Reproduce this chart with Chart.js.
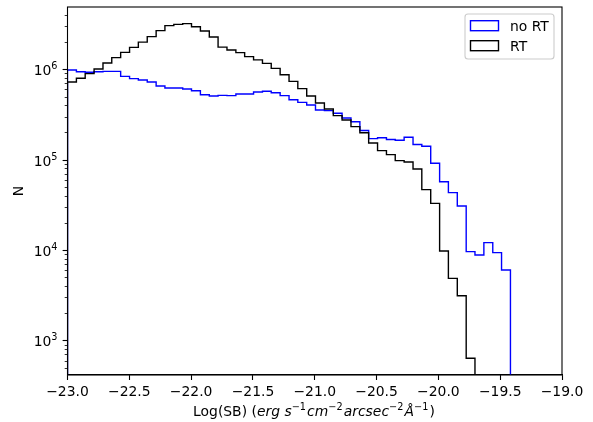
<!DOCTYPE html>
<html>
<head>
<meta charset="utf-8">
<style>
    html, body { margin: 0; padding: 0; background: #ffffff; }
    canvas { display: block; }
</style>
<script src="https://cdn.jsdelivr.net/npm/chart.js@4"></script>
</head>
<body>
<canvas id="sbChart" width="593" height="422"></canvas>
<script>
let binEdges = [
    -23.000, -22.928, -22.857, -22.785, -22.713, -22.642, -22.570, -22.498, -22.427, -22.355,
    -22.283, -22.212, -22.140, -22.068, -21.997, -21.925, -21.853, -21.782, -21.710, -21.638,
    -21.567, -21.495, -21.423, -21.352, -21.280, -21.208, -21.137, -21.065, -20.994, -20.922,
    -20.850, -20.779, -20.707, -20.635, -20.564, -20.492, -20.420, -20.349, -20.277, -20.205,
    -20.134, -20.062, -19.990, -19.919, -19.847, -19.775, -19.704, -19.632, -19.560, -19.489,
    -19.417
];

let noRtCounts = [
    9.82e5, 9.41e5, 9.26e5, 9.41e5, 9.49e5, 9.49e5, 8.36e5, 7.88e5, 7.61e5, 7.23e5,
    6.53e5, 6.21e5, 6.21e5, 6.05e5, 5.80e5, 5.24e5, 5.07e5, 5.15e5, 5.11e5, 5.33e5,
    5.33e5, 5.61e5, 5.71e5, 5.51e5, 5.11e5, 4.61e5, 4.31e5, 4.03e5, 3.55e5, 3.49e5,
    3.26e5, 2.89e5, 2.63e5, 2.10e5, 1.71e5, 1.75e5, 1.67e5, 1.64e5, 1.77e5, 1.47e5,
    1.41e5, 9.12e4, 5.71e4, 4.32e4, 3.07e4, 9.61e3, 8.83e3, 1.21e4, 9.37e3, 6.03e3
];

let rtCounts = [
    7.23e5, 7.95e5, 8.95e5, 1.008e6, 1.174e6, 1.345e6, 1.54e6, 1.75e6, 2.00e6, 2.30e6,
    2.68e6, 3.04e6, 3.14e6, 3.20e6, 2.96e6, 2.65e6, 2.28e6, 1.76e6, 1.635e6, 1.53e6,
    1.38e6, 1.27e6, 1.164e6, 1.025e6, 8.72e5, 7.36e5, 6.11e5, 5.07e5, 4.24e5, 3.64e5,
    3.07e5, 2.75e5, 2.32e5, 1.99e5, 1.53e5, 1.26e5, 1.137e5, 9.76e4, 9.43e4, 7.89e4,
    4.66e4, 3.29e4, 9.77e3, 4.87e3, 3.13e3, 6.35e2
];

let seriesNames = ["no RT", "RT"];
let seriesColors = ["#0000ff", "#000000"];

let xMin = -23;
let xMax = -19;
let yMin = 415;
let yMax = 4.89e6;

let fontName = "'DejaVu Sans'";

// one point per bin edge, closed down to the bottom of the axis like a step histogram
function stepPoints(counts)
{
    let points = [{ x: binEdges[0], y: yMin / 10 }];

    counts.forEach((count, i) => {
        points.push({ x: binEdges[i], y: count });
    });

    points.push({ x: binEdges[counts.length], y: yMin / 10 });

    return points;
}

// writes text pieces one after the other, each with its own font and raise
function drawRuns(ctx, runs, x, y)
{
    ctx.textAlign = "left";
    ctx.textBaseline = "alphabetic";

    let total = 0;

    runs.forEach(run => {
        ctx.font = run.font;
        total += ctx.measureText(run.text).width + (run.gap || 0);
    });

    let pos = x - total / 2;

    runs.forEach(run => {
        ctx.font = run.font;
        ctx.fillText(run.text, pos, y - (run.rise || 0));
        pos += ctx.measureText(run.text).width + (run.gap || 0);
    });
}

let matplotlibLook = {
    id: "matplotlibLook",

    afterDraw(chart)
    {
        let ctx = chart.ctx;
        let area = chart.chartArea;
        let yScale = chart.scales.y;

        let regular = "13.9px " + fontName;
        let italic = "italic 13.9px " + fontName;
        let small = "9.7px " + fontName;

        ctx.save();
        ctx.fillStyle = "#000000";
        ctx.strokeStyle = "#000000";

        // frame
        ctx.lineWidth = 1.1;
        ctx.strokeRect(area.left, area.top, area.right - area.left, area.bottom - area.top);

        // log ticks and their labels
        yScale.ticks.forEach(tick => {
            let power = Math.floor(Math.log10(tick.value) + 1e-9);
            let lead = tick.value / Math.pow(10, power);

            if (Math.abs(lead - Math.round(lead)) > 1e-6) {
                return;
            }

            let py = Math.round(yScale.getPixelForValue(tick.value)) + 0.5;
            let major = Math.round(lead) === 1;

            ctx.lineWidth = major ? 1.1 : 0.8;
            ctx.beginPath();
            ctx.moveTo(area.left, py);
            ctx.lineTo(area.left - (major ? 4.9 : 2.8), py);
            ctx.stroke();

            if (major) {
                ctx.textAlign = "right";
                ctx.textBaseline = "alphabetic";
                ctx.font = small;
                let supWidth = ctx.measureText(String(power)).width;
                ctx.fillText(String(power), 57.5, py - 0.5);
                ctx.font = regular;
                ctx.fillText("10", 57.5 - supWidth, py + 5);
            }
        });

        // axis titles
        ctx.save();
        ctx.translate(19, 191);
        ctx.rotate(-Math.PI / 2);
        ctx.font = regular;
        ctx.textAlign = "center";
        ctx.textBaseline = "middle";
        ctx.fillText("N", 0, 0);
        ctx.restore();

        drawRuns(ctx, [
            { text: "Log(SB) (", font: regular },
            { text: "erg s", font: italic },
            { text: "\u22121", font: small, rise: 6, gap: 1.2 },
            { text: "cm", font: italic },
            { text: "\u22122", font: small, rise: 6, gap: 1.2 },
            { text: "arcsec", font: italic },
            { text: "\u22122", font: small, rise: 6, gap: 1.2 },
            { text: "\u00c5", font: italic },
            { text: "\u22121", font: small, rise: 6, gap: 1.2 },
            { text: ")", font: regular }
        ], 314, 416);

        // legend box
        ctx.strokeStyle = "#cccccc";
        ctx.lineWidth = 1.1;
        ctx.fillStyle = "rgba(255,255,255,0.8)";
        ctx.beginPath();
        ctx.roundRect(465, 14, 89, 45, 3);
        ctx.fill();
        ctx.stroke();

        seriesNames.forEach((name, i) => {
            let top = 20.7 + i * 20;

            ctx.strokeStyle = seriesColors[i];
            ctx.lineWidth = 1.4;
            ctx.strokeRect(470.5, top, 28, 10);

            ctx.fillStyle = "#000000";
            ctx.font = regular;
            ctx.textAlign = "left";
            ctx.textBaseline = "alphabetic";
            ctx.fillText(name, 510, top + 10);
        });

        ctx.restore();
    }
};

new Chart(
    document.getElementById(
        "sbChart"
    ),
    {
        type: "line",

        plugins: [matplotlibLook],

        data: {
            datasets: [
                {
                    label: seriesNames[0],
                    data: stepPoints(noRtCounts),
                    borderColor: seriesColors[0],
                    borderWidth: 1.4,
                    stepped: "before",
                    pointRadius: 0,
                    fill: false,
                    order: 2
                },
                {
                    label: seriesNames[1],
                    data: stepPoints(rtCounts),
                    borderColor: seriesColors[1],
                    borderWidth: 1.4,
                    stepped: "before",
                    pointRadius: 0,
                    fill: false,
                    order: 1
                }
            ]
        },

        options: {
            responsive: false,
            animation: false,
            devicePixelRatio: 1,

            layout: {
                padding: { left: 0, top: 7, right: 31, bottom: 0 }
            },

            plugins: {
                legend: { display: false },
                tooltip: { enabled: false }
            },

            scales: {
                x: {
                    type: "linear",
                    min: xMin,
                    max: xMax,
                    afterFit(scale) { scale.height = 47; },
                    border: { color: "#000000", width: 1.1 },
                    grid: {
                        drawOnChartArea: false,
                        tickLength: 5,
                        tickColor: "#000000",
                        tickWidth: 1.1
                    },
                    ticks: {
                        stepSize: 0.5,
                        padding: 4,
                        color: "#000000",
                        maxRotation: 0,
                        font: { family: fontName, size: 13.9 },
                        callback: value => value.toFixed(1).replace("-", "\u2212")
                    }
                },
                y: {
                    type: "logarithmic",
                    min: yMin,
                    max: yMax,
                    afterFit(scale) { scale.width = 67.5; },
                    border: { display: false },
                    grid: { display: false },
                    ticks: { display: false }
                }
            }
        }
    }
);
</script>
</body>
</html>
